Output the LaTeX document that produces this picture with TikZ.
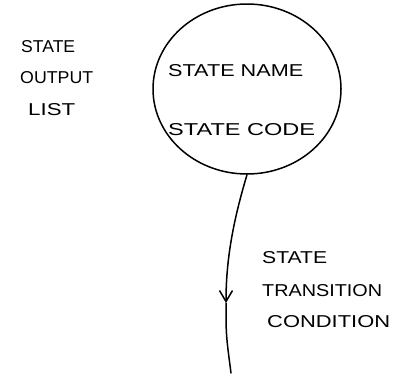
\documentclass[tikz,border=0pt]{standalone}
\usepackage{fontspec}
\setmainfont{Liberation Sans}
\usetikzlibrary{shapes.geometric,arrows.meta}
\newcommand\hwtext[2]{\resizebox{#1pt}{12pt}{#2}}
\tikzset{
  hw/.style={inner sep=0pt, anchor=west, font=\fontsize{14}{16}\selectfont},
  statebubble/.style={draw, ellipse, line width=1.5pt, minimum width=188pt, minimum height=170pt, inner sep=0pt},
  wire/.style={line width=1.5pt, line cap=round},
}
\begin{document}
\begin{tikzpicture}[x=1pt,y=-1pt]
\useasboundingbox (0,0) rectangle (398,383);
\node[statebubble] (s) at (247,89) {};
\node[hw] (sname) at (168,71) {\hwtext{135}{STATE NAME}};
\node[hw] (scode) at (168,130) {\hwtext{147}{STATE CODE}};
\node[hw] (o1) at (21,47) {\hwtext{54}{STATE}};
\node[hw] (o2) at (20,78) {\hwtext{73}{OUTPUT}};
\node[hw] (o3) at (28,110) {\hwtext{47}{LIST}};
\node[hw] (t1) at (262,258) {\hwtext{65}{STATE}};
\node[hw] (t2) at (262,291) {\hwtext{120}{TRANSITION}};
\node[hw] (t3) at (267,322) {\hwtext{123}{CONDITION}};
\coordinate (mid) at (226,303);
\coordinate (tail) at (231,373);
\draw[wire, -{Straight Barb[length=11pt,width=13pt,line width=1.5pt]}] (s.south) .. controls (235,215) and (226,255) .. (mid);
\draw[wire] (mid) .. controls (226,335) .. (tail);
\end{tikzpicture}
\end{document}
